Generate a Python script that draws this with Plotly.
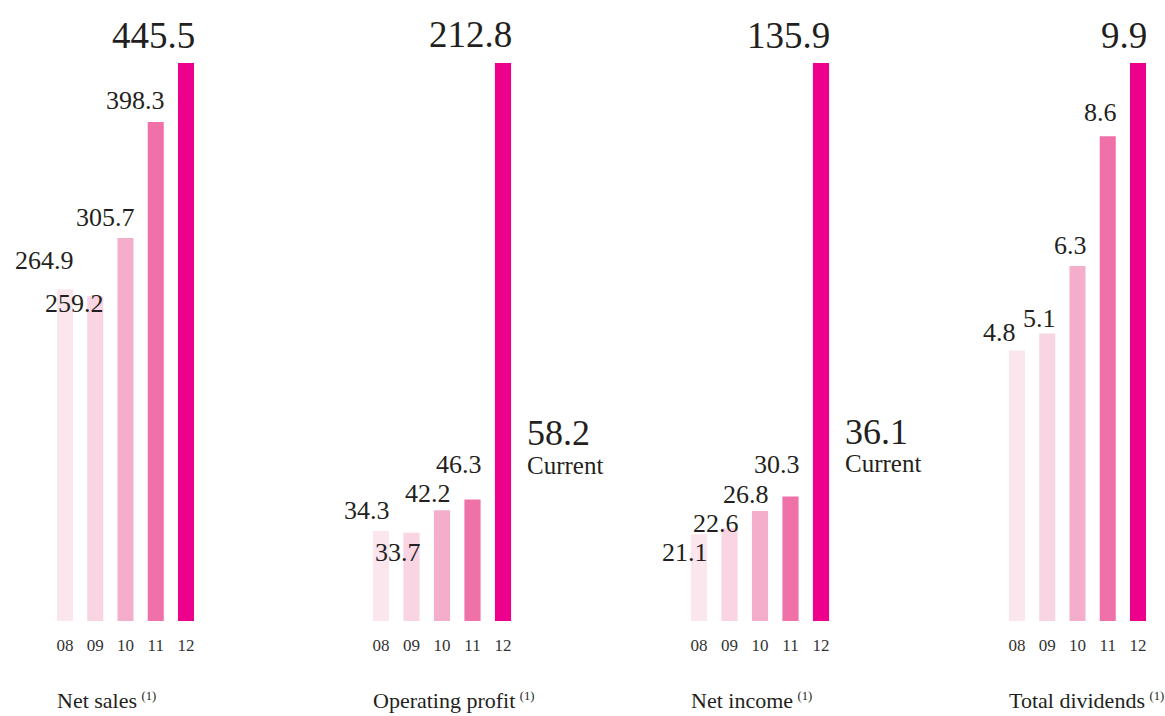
import plotly.graph_objects as go

# ---------------- data ----------------
categories = ["08", "09", "10", "11", "12"]
net_sales = [264.9, 259.2, 305.7, 398.3, 445.5]
operating_profit = [34.3, 33.7, 42.2, 46.3, 212.8]
net_income = [21.1, 22.6, 26.8, 30.3, 135.9]
total_dividends = [4.8, 5.1, 6.3, 8.6, 9.9]
current_values = [None, 58.2, 36.1, None]
panel_titles = ["Net sales", "Operating profit", "Net income", "Total dividends"]
note_mark = "(1)"
current_label = "Current"

# ---------------- styles ----------------
W, H = 1165, 716
bar_colors = ["#fce6ee", "#f9d4e3", "#f4aecb", "#f071a8", "#ec008c"]
text_color = "#231f20"
FONT = "Liberation Serif, Times New Roman, serif"
BASE_PX, TOP_PX = 621, 63
# panel pixel extents (left, right) for category range [-0.5, 4.5]
panel_px = [(49.9, 201.1), (365.75, 518.25), (683.75, 836.25), (1001.9, 1153.1)]
BAR_W = 0.53
# label baseline distance above the bar top (px), per panel and bar
label_gaps = [
    [19, -17, 11, 12, 13.5],
    [11, -30, 7, 25, 14.5],
    [-28, -5, 7, 22, 13.5],
    [8.5, 5.5, 11, 14, 13.5],
]
label_dx = [
    [0, 0, 0, 0, 0],
    [0, 0, 0, 0, 0],
    [0, 0, 0, 0, 0],
    [-10, 0, 0, 0, 0],
]
current_gap = [None, -6, 0, None]
SMALL, LARGE = 26, 37

series = [net_sales, operating_profit, net_income, total_dividends]

fig = go.Figure()
ydom = [(H - BASE_PX) / H, (H - TOP_PX) / H]
annotations = []

for p, vals in enumerate(series):
    xa = "x" if p == 0 else f"x{p+1}"
    ya = "y" if p == 0 else f"y{p+1}"
    fig.add_trace(go.Bar(
        x=list(range(len(categories))), y=vals, width=BAR_W,
        marker=dict(color=bar_colors, line=dict(width=0)),
        xaxis=xa, yaxis=ya, hoverinfo="x+y", showlegend=False,
    ))
    l, r = panel_px[p]
    ymax = max(vals)
    ax_x = dict(domain=[l / W, r / W], range=[-0.5, 4.5], anchor=ya,
                tickmode="array", tickvals=list(range(len(categories))),
                ticktext=categories, showgrid=False, zeroline=False,
                showline=False, ticks="", ticklabelstandoff=12,
                tickfont=dict(family=FONT, size=17, color="#333333"),
                automargin=False, fixedrange=True)
    ax_y = dict(domain=ydom, range=[0, ymax], anchor=xa, visible=False,
                showgrid=False, zeroline=False, automargin=False, fixedrange=True)
    key = "" if p == 0 else str(p + 1)
    fig.update_layout(**{f"xaxis{key}": ax_x, f"yaxis{key}": ax_y})

    for i, v in enumerate(vals):
        size = LARGE if i == len(vals) - 1 else SMALL
        gap = label_gaps[p][i]
        annotations.append(dict(
            x=i + BAR_W / 2, y=v, xref=xa, yref=ya,
            text=f"{v:.1f}", showarrow=False,
            xanchor="right", yanchor="bottom",
            xshift=label_dx[p][i] + 3, yshift=gap - 0.216 * size - 1,
            font=dict(family=FONT, size=size, color=text_color),
        ))

    # panel title below the axis
    annotations.append(dict(
        x=-BAR_W / 2, y=0, xref=xa, yref="paper",
        text=f"{panel_titles[p]}<span style='font-size:18px'> <sup>{note_mark}</sup></span>",
        showarrow=False, xanchor="left", yanchor="bottom", xshift=-2, yshift=1,
        font=dict(family=FONT, size=22, color=text_color),
    ))

    cv = current_values[p]
    if cv is not None:
        g = current_gap[p]
        annotations.append(dict(
            x=len(vals) - 1 + BAR_W / 2, y=cv, xref=xa, yref=ya,
            text=current_label, showarrow=False,
            xanchor="left", yanchor="bottom", xshift=14, yshift=g - 0.216 * 25 - 1,
            font=dict(family=FONT, size=25, color=text_color),
        ))
        annotations.append(dict(
            x=len(vals) - 1 + BAR_W / 2, y=cv, xref=xa, yref=ya,
            text=f"{cv:.1f}", showarrow=False,
            xanchor="left", yanchor="bottom", xshift=14, yshift=g + 28 - 0.216 * 36 - 1,
            font=dict(family=FONT, size=36, color=text_color),
        ))

fig.update_layout(
    width=W, height=H, template="none",
    margin=dict(l=0, r=0, t=0, b=0),
    paper_bgcolor="white", plot_bgcolor="white",
    annotations=annotations, showlegend=False,
)

fig.write_html("out.html")
